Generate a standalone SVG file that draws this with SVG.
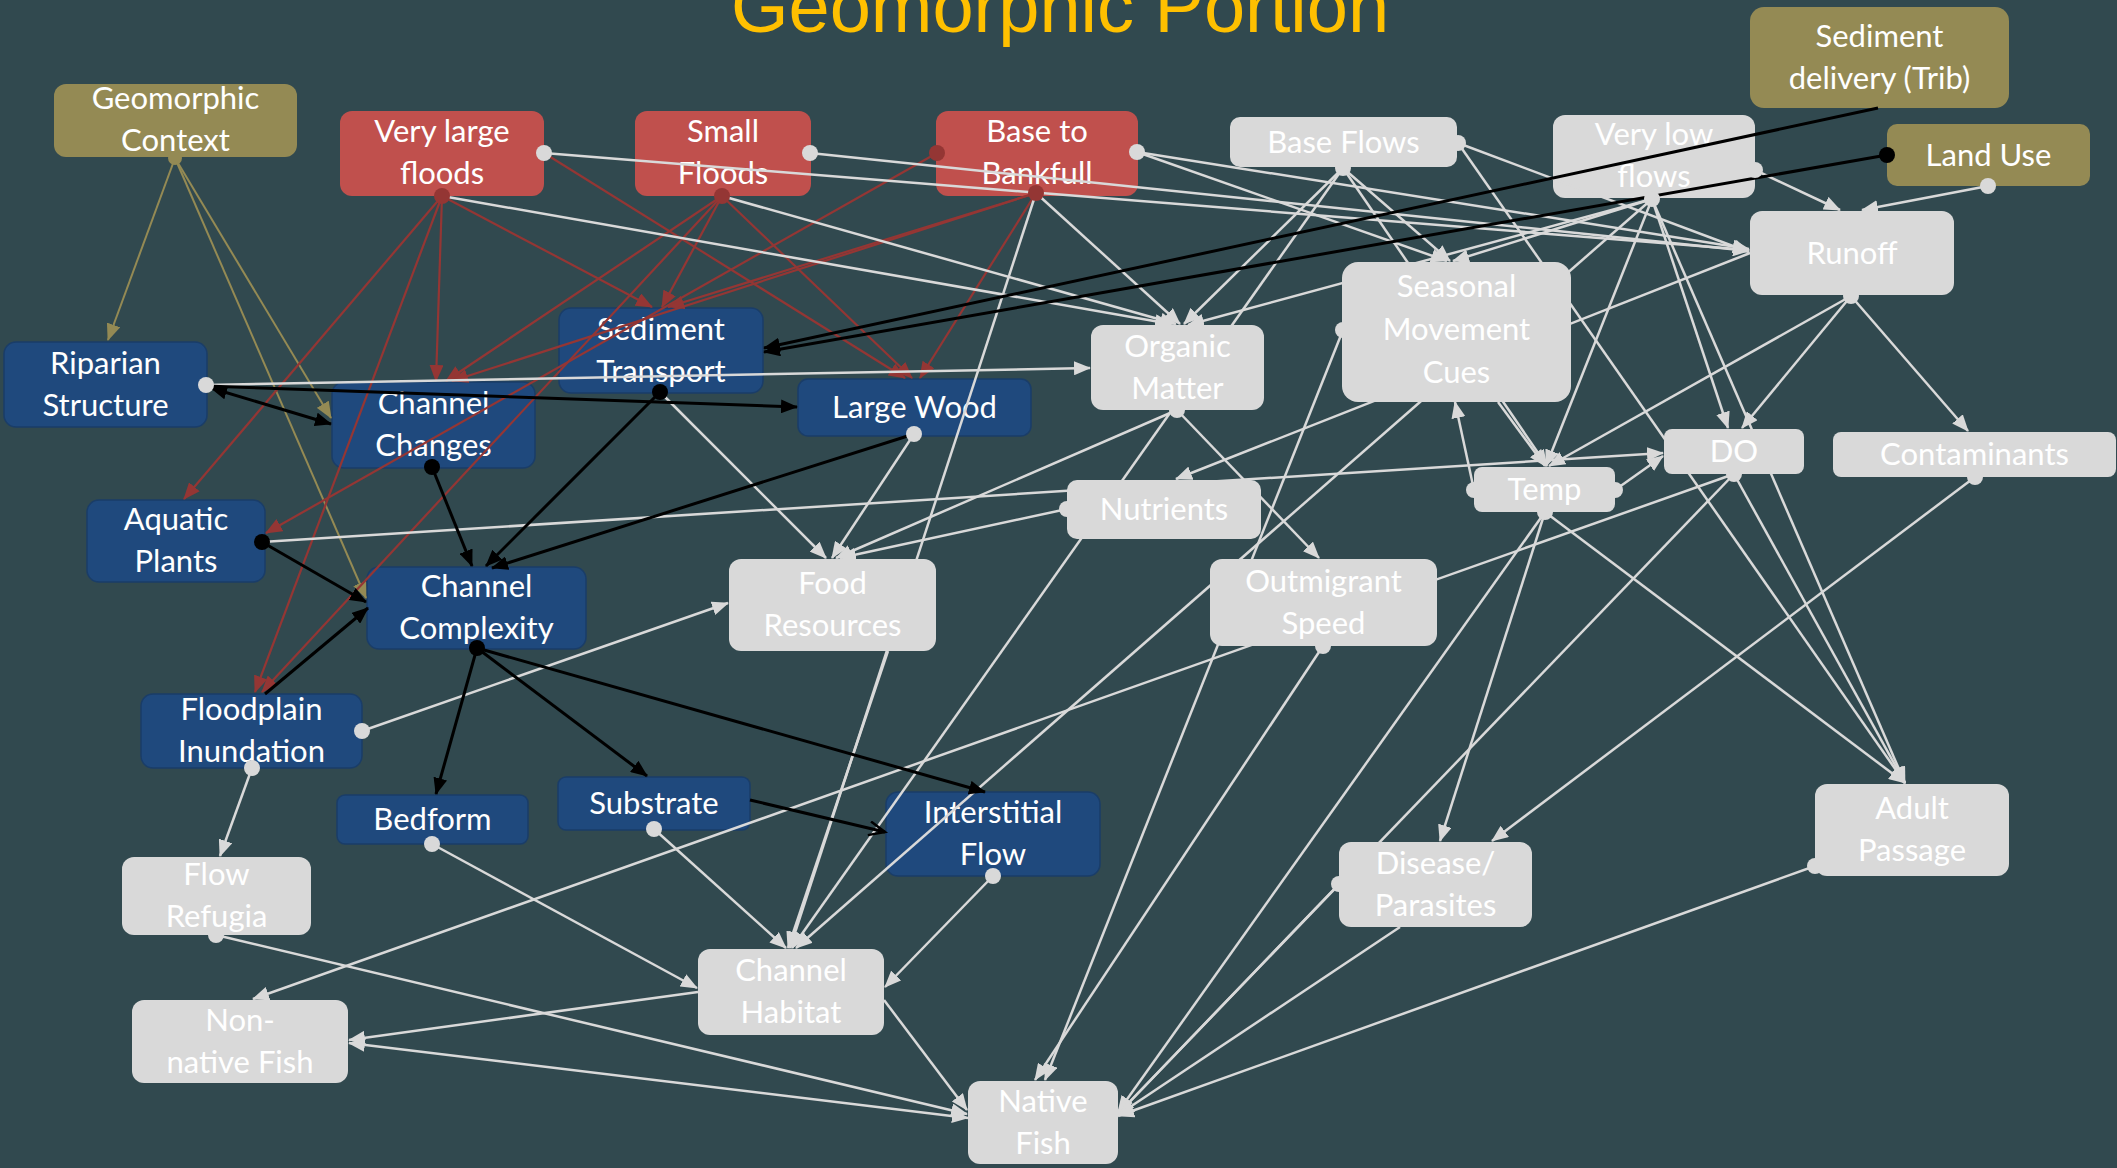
<svg xmlns="http://www.w3.org/2000/svg" width="2117" height="1168" viewBox="0 0 2117 1168">
<style>
.bg{fill:#31494f}
.title{font-family:"Liberation Sans",Arial,sans-serif;font-size:74px;fill:#ffc000}
.lbl{font-family:Lato,"Liberation Sans",sans-serif;font-size:31px;fill:#ffffff;text-anchor:middle}
.nr{fill:#c0504d}
.nb{fill:#1f497d;stroke:#1a3d68;stroke-width:1.5}
.no{fill:#948a54}
.ng{fill:#d9d9d9}
.w{stroke:#d9d9d9;stroke-width:2.5;fill:none;marker-end:url(#aw)}
.r{stroke:#943634;stroke-width:2.2;fill:none;marker-end:url(#ar)}
.k{stroke:#000000;stroke-width:3;fill:none;marker-end:url(#ak)}
.o{stroke:#948a54;stroke-width:2;fill:none;marker-end:url(#ao)}
.dw{fill:#d9d9d9}
.dr{fill:#943634}
.dk{fill:#000000}
.do{fill:#948a54}
</style>
<defs>
<marker id="aw" markerUnits="userSpaceOnUse" markerWidth="18" markerHeight="14" refX="16" refY="7" orient="auto-start-reverse"><path d="M0,0L17,7L0,14z" fill="#d9d9d9"/></marker>
<marker id="ar" markerUnits="userSpaceOnUse" markerWidth="18" markerHeight="14" refX="16" refY="7" orient="auto"><path d="M0,0L17,7L0,14z" fill="#943634"/></marker>
<marker id="ak" markerUnits="userSpaceOnUse" markerWidth="18" markerHeight="14" refX="16" refY="7" orient="auto-start-reverse"><path d="M0,0L17,7L0,14z" fill="#000000"/></marker>
<marker id="ako" markerUnits="userSpaceOnUse" markerWidth="20" markerHeight="16" refX="17" refY="8" orient="auto"><path d="M1,1L17,8L1,15" fill="none" stroke="#000000" stroke-width="2.5"/></marker>
<marker id="ao" markerUnits="userSpaceOnUse" markerWidth="18" markerHeight="14" refX="16" refY="7" orient="auto"><path d="M0,0L17,7L0,14z" fill="#948a54"/></marker>
</defs>
<rect class="bg" x="0" y="0" width="2117" height="1168"/>
<text class="title" x="1060" y="32" text-anchor="middle">Geomorphic Portion</text>

<g id="node-geomorphic-context"><rect class="no" x="54" y="84" width="243" height="73" rx="12"/><text class="lbl" x="175.5" y="109">Geomorphic</text><text class="lbl" x="175.5" y="151">Context</text></g>
<g id="node-very-large-floods"><rect class="nr" x="340" y="111" width="204" height="85" rx="12"/><text class="lbl" x="442" y="142">Very large</text><text class="lbl" x="442" y="184">floods</text></g>
<g id="node-small-floods"><rect class="nr" x="635" y="111" width="176" height="85" rx="12"/><text class="lbl" x="723" y="142">Small</text><text class="lbl" x="723" y="184">Floods</text></g>
<g id="node-base-to-bankfull"><rect class="nr" x="936" y="111" width="202" height="85" rx="12"/><text class="lbl" x="1037" y="142">Base to</text><text class="lbl" x="1037" y="184">Bankfull</text></g>
<g id="node-very-low-flows"><rect class="ng" x="1553" y="115" width="202" height="83" rx="12"/><text class="lbl" x="1654" y="145">Very low</text><text class="lbl" x="1654" y="187">flows</text></g>
<g id="node-sediment-delivery"><rect class="no" x="1750" y="7" width="259" height="101" rx="14"/><text class="lbl" x="1879.5" y="47">Sediment</text><text class="lbl" x="1879.5" y="89">delivery (Trib)</text></g>
<g id="node-land-use"><rect class="no" x="1887" y="124" width="203" height="62" rx="10"/><text class="lbl" x="1988.5" y="166">Land Use</text></g>
<g id="node-riparian-structure"><rect class="nb" x="4" y="342" width="203" height="85" rx="12"/><text class="lbl" x="105.5" y="374">Riparian</text><text class="lbl" x="105.5" y="416">Structure</text></g>
<g id="node-sediment-transport"><rect class="nb" x="559" y="308" width="204" height="85" rx="12"/><text class="lbl" x="661" y="340">Sediment</text><text class="lbl" x="661" y="382">Transport</text></g>
<g id="node-channel-changes"><rect class="nb" x="332" y="382" width="203" height="86" rx="12"/><text class="lbl" x="433.5" y="414">Channel</text><text class="lbl" x="433.5" y="456">Changes</text></g>
<g id="node-large-wood"><rect class="nb" x="798" y="379" width="233" height="57" rx="10"/><text class="lbl" x="914.5" y="418">Large Wood</text></g>
<g id="node-aquatic-plants"><rect class="nb" x="87" y="500" width="178" height="82" rx="12"/><text class="lbl" x="176" y="530">Aquatic</text><text class="lbl" x="176" y="572">Plants</text></g>
<g id="node-channel-complexity"><rect class="nb" x="367" y="567" width="219" height="82" rx="12"/><text class="lbl" x="476.5" y="597">Channel</text><text class="lbl" x="476.5" y="639">Complexity</text></g>
<g id="node-floodplain-inundation"><rect class="nb" x="141" y="694" width="221" height="74" rx="12"/><text class="lbl" x="251.5" y="720">Floodplain</text><text class="lbl" x="251.5" y="762">Inundation</text></g>
<g id="node-bedform"><rect class="nb" x="337" y="795" width="191" height="49" rx="8"/><text class="lbl" x="432.5" y="830">Bedform</text></g>
<g id="node-substrate"><rect class="nb" x="558" y="777" width="192" height="53" rx="8"/><text class="lbl" x="654" y="814">Substrate</text></g>
<g id="node-interstitial-flow"><rect class="nb" x="886" y="792" width="214" height="84" rx="12"/><text class="lbl" x="993" y="823">Interstitial</text><text class="lbl" x="993" y="865">Flow</text></g>

<g id="connectors">
<line class="o" x1="175" y1="158" x2="108" y2="340"/>
<line class="o" x1="175" y1="158" x2="331" y2="418"/>
<line class="o" x1="175" y1="158" x2="366" y2="598"/>
<line class="r" x1="442" y1="196" x2="184" y2="499"/>
<line class="r" x1="442" y1="196" x2="255" y2="692"/>
<line class="r" x1="442" y1="196" x2="436" y2="381"/>
<line class="r" x1="442" y1="196" x2="652" y2="307"/>
<line class="r" x1="544" y1="153" x2="905" y2="378"/>
<line class="r" x1="722" y1="196" x2="446" y2="381"/>
<line class="r" x1="722" y1="196" x2="662" y2="307"/>
<line class="r" x1="722" y1="196" x2="912" y2="378"/>
<line class="r" x1="722" y1="196" x2="262" y2="692"/>
<line class="r" x1="1036" y1="193" x2="668" y2="307"/>
<line class="r" x1="1036" y1="193" x2="452" y2="381"/>
<line class="r" x1="1036" y1="193" x2="920" y2="378"/>
<line class="r" x1="937" y1="153" x2="266" y2="533"/>
<line class="w" x1="544" y1="153" x2="1749" y2="250"/>
<line class="w" x1="442" y1="196" x2="1171" y2="324"/>
<line class="w" x1="810" y1="153" x2="1749" y2="251"/>
<line class="w" x1="722" y1="196" x2="1176" y2="324"/>
<line class="w" x1="1137" y1="152" x2="1749" y2="249"/>
<line class="w" x1="1137" y1="152" x2="1447" y2="261"/>
<line class="w" x1="1036" y1="193" x2="1180" y2="324"/>
<line class="w" x1="1036" y1="193" x2="790" y2="948"/>
<line class="w" x1="1458" y1="143" x2="1749" y2="252"/>
<line class="w" x1="1458" y1="143" x2="1905" y2="783"/>
<line class="w" x1="1343" y1="168" x2="1184" y2="324"/>
<line class="w" x1="1343" y1="168" x2="1450" y2="261"/>
<line class="w" x1="1343" y1="168" x2="792" y2="948"/>
<line class="w" x1="1343" y1="168" x2="1547" y2="466"/>
<line class="w" x1="1652" y1="199" x2="1453" y2="261"/>
<line class="w" x1="1652" y1="199" x2="1188" y2="325"/>
<line class="w" x1="1652" y1="199" x2="796" y2="948"/>
<line class="w" x1="1652" y1="199" x2="1728" y2="428"/>
<line class="w" x1="1652" y1="199" x2="1905" y2="783"/>
<line class="w" x1="1652" y1="199" x2="1546" y2="466"/>
<line class="w" x1="1755" y1="170" x2="1840" y2="210"/>
<line class="w" x1="1988" y1="186" x2="1862" y2="210"/>
<line class="w" x1="1851" y1="296" x2="1742" y2="428"/>
<line class="w" x1="1851" y1="296" x2="1549" y2="466"/>
<line class="w" x1="1851" y1="296" x2="1968" y2="431"/>
<line class="w" x1="1750" y1="253" x2="1176" y2="479"/>
<line class="w" x1="206" y1="385" x2="1090" y2="368"/>
<line class="w" x1="660" y1="392" x2="826" y2="558"/>
<line class="w" x1="914" y1="434" x2="832" y2="558"/>
<line class="w" x1="1177" y1="410" x2="836" y2="558"/>
<line class="w" x1="1067" y1="509" x2="840" y2="558"/>
<line class="w" x1="1177" y1="410" x2="1319" y2="558"/>
<line class="w" x1="362" y1="731" x2="728" y2="603"/>
<line class="w" x1="252" y1="768" x2="220" y2="856"/>
<line class="w" x1="262" y1="542" x2="1663" y2="453"/>
<line class="w" x1="1615" y1="490" x2="1663" y2="456"/>
<line class="w" x1="1474" y1="490" x2="1455" y2="402"/>
<line class="w" x1="1498" y1="402" x2="1545" y2="466"/>
<line class="w" x1="1545" y1="512" x2="1440" y2="841"/>
<line class="w" x1="1545" y1="512" x2="1905" y2="783"/>
<line class="w" x1="1545" y1="512" x2="1118" y2="1112"/>
<line class="w" x1="1734" y1="474" x2="1905" y2="783"/>
<line class="w" x1="1734" y1="474" x2="1118" y2="1114"/>
<line class="w" x1="1734" y1="474" x2="253" y2="999"/>
<line class="w" x1="1975" y1="477" x2="1492" y2="841"/>
<line class="w" x1="1343" y1="330" x2="1045" y2="1080"/>
<line class="w" x1="1323" y1="646" x2="1035" y2="1080"/>
<line class="w" x1="1339" y1="884" x2="1118" y2="1114"/>
<line class="w" x1="1400" y1="927" x2="1118" y2="1115"/>
<line class="w" x1="1815" y1="866" x2="1118" y2="1116"/>
<line class="w" x1="432" y1="844" x2="697" y2="988"/>
<line class="w" x1="654" y1="829" x2="786" y2="948"/>
<line class="w" x1="993" y1="876" x2="885" y2="987"/>
<line class="w" x1="888" y1="651" x2="788" y2="948"/>
<line class="w" x1="698" y1="992" x2="349" y2="1040"/>
<line class="w" x1="884" y1="1000" x2="967" y2="1110"/>
<line class="w" x1="216" y1="935" x2="967" y2="1114"/>
<line class="w" x1="968" y1="1118" x2="349" y2="1043" style="marker-start:url(#aw)"/>
<line class="k" x1="1878" y1="108" x2="764" y2="348"/>
<line class="k" x1="1887" y1="155" x2="764" y2="352"/>
<line class="k" x1="206" y1="386" x2="797" y2="407"/>
<line class="k" x1="211" y1="388" x2="331" y2="424" style="marker-start:url(#ak)"/>
<line class="k" x1="660" y1="392" x2="486" y2="566"/>
<line class="k" x1="432" y1="467" x2="472" y2="566"/>
<line class="k" x1="914" y1="434" x2="492" y2="568"/>
<line class="k" x1="262" y1="542" x2="366" y2="602"/>
<line class="k" x1="265" y1="694" x2="368" y2="608"/>
<line class="k" x1="477" y1="648" x2="436" y2="794"/>
<line class="k" x1="477" y1="648" x2="647" y2="776"/>
<line class="k" x1="477" y1="648" x2="985" y2="792"/>
<line class="k" x1="750" y1="800" x2="885" y2="832" style="marker-end:url(#ako)"/>
<circle class="do" cx="175" cy="158" r="7"/>
<circle class="dr" cx="442" cy="196" r="8"/>
<circle class="dr" cx="722" cy="196" r="8"/>
<circle class="dr" cx="1036" cy="193" r="8"/>
<circle class="dr" cx="937" cy="153" r="8"/>
<circle class="dw" cx="544" cy="153" r="8"/>
<circle class="dw" cx="810" cy="153" r="8"/>
<circle class="dw" cx="1137" cy="152" r="8"/>
<circle class="dw" cx="1458" cy="143" r="8"/>
<circle class="dw" cx="1343" cy="168" r="8"/>
<circle class="dw" cx="1652" cy="199" r="8"/>
<circle class="dw" cx="1755" cy="170" r="8"/>
<circle class="dw" cx="1988" cy="186" r="8"/>
<circle class="dk" cx="1887" cy="155" r="8"/>
<circle class="dw" cx="1851" cy="296" r="8"/>
<circle class="dw" cx="206" cy="385" r="8"/>
<circle class="dk" cx="660" cy="392" r="8"/>
<circle class="dk" cx="432" cy="467" r="8"/>
<circle class="dw" cx="914" cy="434" r="8"/>
<circle class="dk" cx="262" cy="542" r="8"/>
<circle class="dk" cx="477" cy="648" r="8"/>
<circle class="dw" cx="362" cy="731" r="8"/>
<circle class="dw" cx="252" cy="768" r="8"/>
<circle class="dw" cx="432" cy="844" r="8"/>
<circle class="dw" cx="654" cy="829" r="8"/>
<circle class="dw" cx="993" cy="876" r="8"/>
<circle class="dw" cx="1177" cy="410" r="8"/>
<circle class="dw" cx="1343" cy="330" r="8"/>
<circle class="dw" cx="1545" cy="512" r="8"/>
<circle class="dw" cx="1474" cy="490" r="8"/>
<circle class="dw" cx="1615" cy="490" r="8"/>
<circle class="dw" cx="1734" cy="474" r="8"/>
<circle class="dw" cx="1067" cy="509" r="8"/>
<circle class="dw" cx="1323" cy="646" r="8"/>
<circle class="dw" cx="1815" cy="866" r="8"/>
<circle class="dw" cx="216" cy="935" r="8"/>
<circle class="dw" cx="1339" cy="884" r="8"/>
<circle class="dw" cx="1975" cy="477" r="8"/>
</g>

<g id="node-base-flows"><rect class="ng" x="1230" y="117" width="227" height="50" rx="10"/><text class="lbl" x="1343.5" y="153">Base Flows</text></g>
<g id="node-runoff"><rect class="ng" x="1750" y="211" width="204" height="84" rx="12"/><text class="lbl" x="1852" y="264">Runoff</text></g>
<g id="node-organic-matter"><rect class="ng" x="1091" y="325" width="173" height="85" rx="12"/><text class="lbl" x="1177.5" y="357">Organic</text><text class="lbl" x="1177.5" y="399">Matter</text></g>
<g id="node-seasonal-movement-cues"><rect class="ng" x="1342" y="262" width="229" height="140" rx="16"/><text class="lbl" x="1456.5" y="297">Seasonal</text><text class="lbl" x="1456.5" y="340">Movement</text><text class="lbl" x="1456.5" y="383">Cues</text></g>
<g id="node-contaminants"><rect class="ng" x="1833" y="432" width="283" height="45" rx="8"/><text class="lbl" x="1974.5" y="465">Contaminants</text></g>
<g id="node-do"><rect class="ng" x="1664" y="429" width="140" height="45" rx="8"/><text class="lbl" x="1734" y="462">DO</text></g>
<g id="node-temp"><rect class="ng" x="1474" y="467" width="141" height="45" rx="8"/><text class="lbl" x="1544.5" y="500">Temp</text></g>
<g id="node-nutrients"><rect class="ng" x="1067" y="480" width="194" height="59" rx="10"/><text class="lbl" x="1164" y="520">Nutrients</text></g>
<g id="node-food-resources"><rect class="ng" x="729" y="559" width="207" height="92" rx="12"/><text class="lbl" x="832.5" y="594">Food</text><text class="lbl" x="832.5" y="636">Resources</text></g>
<g id="node-outmigrant-speed"><rect class="ng" x="1210" y="559" width="227" height="87" rx="12"/><text class="lbl" x="1323.5" y="592">Outmigrant</text><text class="lbl" x="1323.5" y="634">Speed</text></g>
<g id="node-adult-passage"><rect class="ng" x="1815" y="784" width="194" height="92" rx="12"/><text class="lbl" x="1912" y="819">Adult</text><text class="lbl" x="1912" y="861">Passage</text></g>
<g id="node-flow-refugia"><rect class="ng" x="122" y="857" width="189" height="78" rx="12"/><text class="lbl" x="216.5" y="885">Flow</text><text class="lbl" x="216.5" y="927">Refugia</text></g>
<g id="node-disease-parasites"><rect class="ng" x="1339" y="842" width="193" height="85" rx="12"/><text class="lbl" x="1435.5" y="874">Disease/</text><text class="lbl" x="1435.5" y="916">Parasites</text></g>
<g id="node-channel-habitat"><rect class="ng" x="698" y="949" width="186" height="86" rx="12"/><text class="lbl" x="791" y="981">Channel</text><text class="lbl" x="791" y="1023">Habitat</text></g>
<g id="node-non-native-fish"><rect class="ng" x="132" y="1000" width="216" height="83" rx="12"/><text class="lbl" x="240" y="1031">Non-</text><text class="lbl" x="240" y="1073">native Fish</text></g>
<g id="node-native-fish"><rect class="ng" x="968" y="1081" width="150" height="83" rx="12"/><text class="lbl" x="1043" y="1112">Native</text><text class="lbl" x="1043" y="1154">Fish</text></g>
</svg>
